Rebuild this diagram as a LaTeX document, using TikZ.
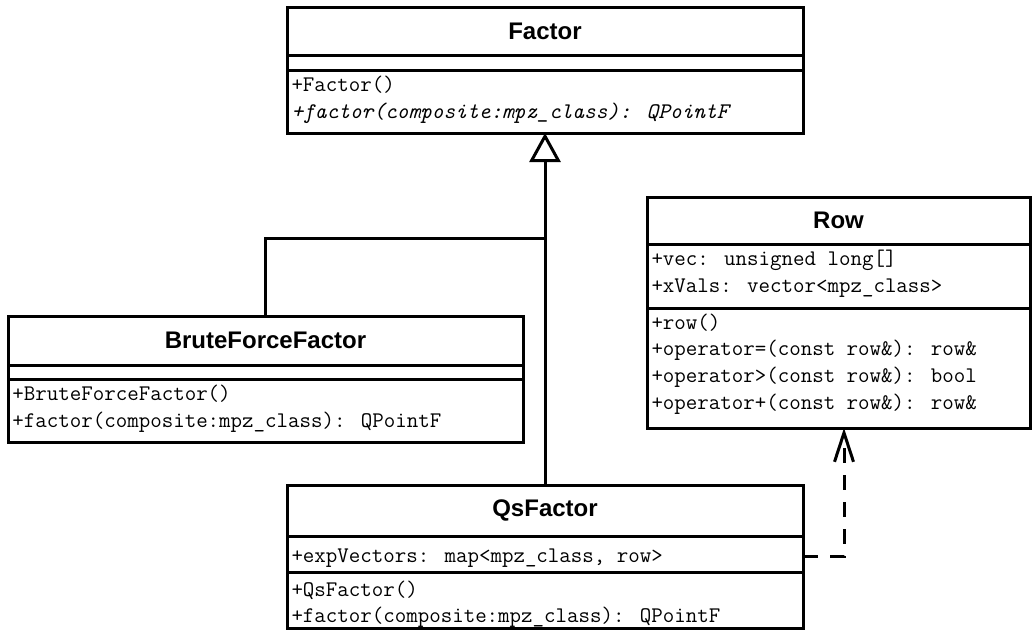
\documentclass[tikz,border=0pt]{standalone}
\usepackage{fontspec}
\setmainfont{Liberation Sans}
\usetikzlibrary{arrows.meta}
\begin{document}
\begin{tikzpicture}[x=1pt,y=-1pt, line width=3pt,
  box/.style={draw, rectangle, inner sep=0pt, outer sep=0pt, anchor=north west},
  title/.style={font=\fontsize{24}{24}\selectfont\bfseries, inner sep=0pt},
  member/.style={font=\fontsize{22.3}{23}\selectfont\ttfamily, anchor=base west, inner sep=0pt},
  inherit/.style={-{Triangle[open, length=29pt, width=31pt]}},
  dep/.style={dash pattern=on 15pt off 12pt, -{Straight Barb[length=29pt, width=19pt]}}]
\useasboundingbox (0,0) rectangle (1034,633);
% Factor
\node[box, minimum width=516pt, minimum height=126pt] (f) at (287,7) {};
\draw (f.west |- 0,55) -- (f.east |- 0,55);
\draw (f.west |- 0,70) -- (f.east |- 0,70);
\node[title] (ft) at (545,31) {Factor};
\node[member] (f1) at (290,91) {+Factor()};
\node[member] (f2) at (290,118) {\itshape +factor(composite:mpz\_class): QPointF};
% BruteForceFactor
\node[box, minimum width=515pt, minimum height=126pt] (b) at (8,316) {};
\draw (b.west |- 0,365) -- (b.east |- 0,365);
\draw (b.west |- 0,379) -- (b.east |- 0,379);
\node[title] (bt) at (265.5,340) {BruteForceFactor};
\node[member] (b1) at (11,400) {+BruteForceFactor()};
\node[member] (b2) at (11,427) {+factor(composite:mpz\_class): QPointF};
% QsFactor
\node[box, minimum width=516pt, minimum height=143pt] (q) at (287,485) {};
\draw (q.west |- 0,536) -- (q.east |- 0,536);
\draw (q.west |- 0,572) -- (q.east |- 0,572);
\node[title] (qt) at (545,510) {QsFactor};
\node[member] (q1) at (290,562) {+expVectors: map<mpz\_class, row>};
\node[member] (q2) at (290,596) {+QsFactor()};
\node[member] (q3) at (290,622) {+factor(composite:mpz\_class): QPointF};
% Row
\node[box, minimum width=383pt, minimum height=231pt] (r) at (647,197) {};
\draw (r.west |- 0,244) -- (r.east |- 0,244);
\draw (r.west |- 0,308) -- (r.east |- 0,308);
\node[title] (rt) at (838.5,220) {Row};
\node[member] (r1) at (650,265) {+vec: unsigned long[]};
\node[member] (r2) at (650,292) {+xVals: vector<mpz\_class>};
\node[member] (r3) at (650,329) {+row()};
\node[member] (r4) at (650,355) {+operator=(const row\&): row\&};
\node[member] (r5) at (650,382) {+operator>(const row\&): bool};
\node[member] (r6) at (650,409) {+operator+(const row\&): row\&};
% connectors
\coordinate (j) at (545,238);
\draw[inherit] (q.north) -- (f.south);
\draw (b.north) |- (j);
\draw[dep] (q.east) -| ([xshift=5.5pt]r.south);
\end{tikzpicture}
\end{document}
